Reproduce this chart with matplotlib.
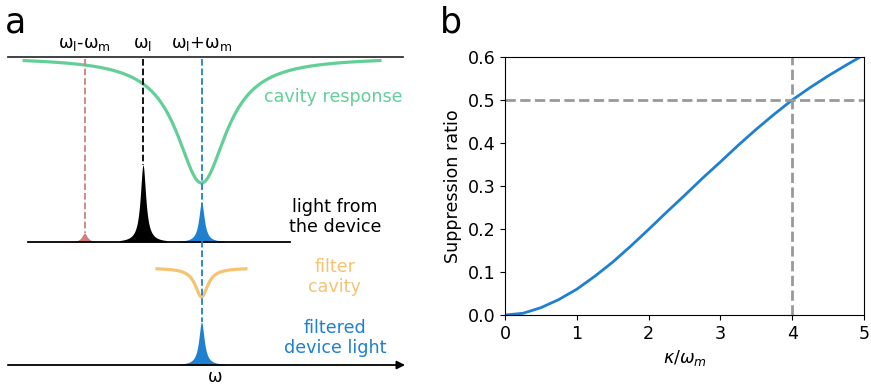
import numpy as np
import matplotlib.pyplot as plt

# suppression ratio read against kappa / omega_m
kappa_ratio = [0, 0.25, 0.5, 0.75, 1.0, 1.25, 1.5, 1.75, 2.0, 2.25, 2.5,
               2.75, 3.0, 3.25, 3.5, 3.75, 4.0, 4.25, 4.5, 4.75, 5.0]
suppression = [0, 0.004, 0.017, 0.036, 0.06, 0.09, 0.123, 0.16, 0.199, 0.239, 0.278,
               0.318, 0.356, 0.395, 0.432, 0.467, 0.5, 0.529, 0.556, 0.581, 0.605]

# schematic: sideband positions in units of omega_m (laser at 0)
line_pos = [-1, 0, 1]
line_labels = [r'$\mathregular{\omega_l}$-$\mathregular{\omega_m}$',
               r'$\mathregular{\omega_l}$',
               r'$\mathregular{\omega_l}$+$\mathregular{\omega_m}$']
line_heights = [9, 77, 40]
filtered_height = 43
cavity_depth = 126
filter_depth = 29

green = '#62cf98'
blue = '#1f80d0'
orange = '#f6c373'
red = '#cd8080'
fs = 12.6


def lorentz(x, x0, g):
    return 1.0 / (1.0 + ((x - x0) / g) ** 2)


fig = plt.figure(figsize=(8.71, 3.86), dpi=100)

# ---- panel a: schematic
ax = fig.add_axes([0, 0, 418 / 871, 1])
ax.set_xlim(-143 / 58.5, (418 - 143) / 58.5)
ax.set_ylim(0, 386)
ax.axis('off')

top, dev, filt, bot = 329, 144, 118, 21
pk_w = 0.056

ax.plot([-2.31, 4.44], [top, top], color='#333333', lw=1.3)
w = np.linspace(-2.03, 4.05, 600)
ax.plot(w, top - cavity_depth * lorentz(w, 1, 0.52), color=green, lw=2.3)

ax.plot([-1.97, 2.51], [dev, dev], color='k', lw=1.3)
for x0, h, c in zip(line_pos, line_heights, [red, 'k', blue]):
    xs = np.linspace(x0 - 0.4, x0 + 0.4, 400)
    ax.fill_between(xs, dev, dev + h * lorentz(xs, x0, pk_w), color=c, lw=0)

wf = np.linspace(0.24, 1.76, 300)
ax.plot(wf, filt - filter_depth * lorentz(wf, 1, 0.13), color=orange, lw=2.3)

ax.annotate('', xy=(4.48, bot), xytext=(-2.31, bot),
            arrowprops=dict(arrowstyle='-|>', color='k', lw=1.3, mutation_scale=12,
                            shrinkA=0, shrinkB=0))
xs = np.linspace(0.6, 1.4, 400)
ax.fill_between(xs, bot, bot + filtered_height * lorentz(xs, 1, pk_w), color=blue, lw=0)

# dashed markers
ax.plot([-1, -1], [327, dev + line_heights[0]], ls='--', color=red, lw=1.3)
ax.plot([0, 0], [327, dev + line_heights[1]], ls='--', color='k', lw=1.3)
ax.plot([1, 1], [327, bot + filtered_height], ls='--', color=blue, lw=1.3)

for x0, lab in zip(line_pos, line_labels):
    ax.text(x0, 333, lab, ha='center', va='bottom', fontsize=fs)

ax.text(403 / 58.5 - 143 / 58.5, 289, 'cavity response', color=green, ha='right',
        va='center', fontsize=fs)
ax.text(3.28, 169, 'light from\nthe device', color='k', ha='center', va='center', fontsize=fs)
ax.text(3.28, 109, 'filter\ncavity', color=orange, ha='center', va='center', fontsize=fs)
ax.text(3.28, 48, 'filtered\ndevice light', color=blue, ha='center', va='center', fontsize=fs)
ax.text(1.23, 9, r'$\mathregular{\omega}$', ha='center', va='center', fontsize=fs)
fig.text(0.006, 0.985, 'a', fontsize=25, va='top')

# ---- panel b: suppression ratio
bx = fig.add_axes([505 / 871, 71 / 386, 359 / 871, 258 / 386])
bx.plot(kappa_ratio, suppression, color=blue, lw=2)
bx.axhline(0.5, color='#999999', ls='--', lw=2)
bx.axvline(4, color='#999999', ls='--', lw=2)
bx.set_xlim(0, 5)
bx.set_ylim(0, 0.6)
bx.set_xticks([0, 1, 2, 3, 4, 5])
bx.set_yticks([0.0, 0.1, 0.2, 0.3, 0.4, 0.5, 0.6])
bx.tick_params(labelsize=fs)
bx.set_xlabel(r'$\kappa/\omega_m$', fontsize=fs)
bx.set_ylabel('Suppression ratio', fontsize=fs)
fig.text(0.505, 0.985, 'b', fontsize=25, va='top')

fig.savefig('out.png', dpi=100)
